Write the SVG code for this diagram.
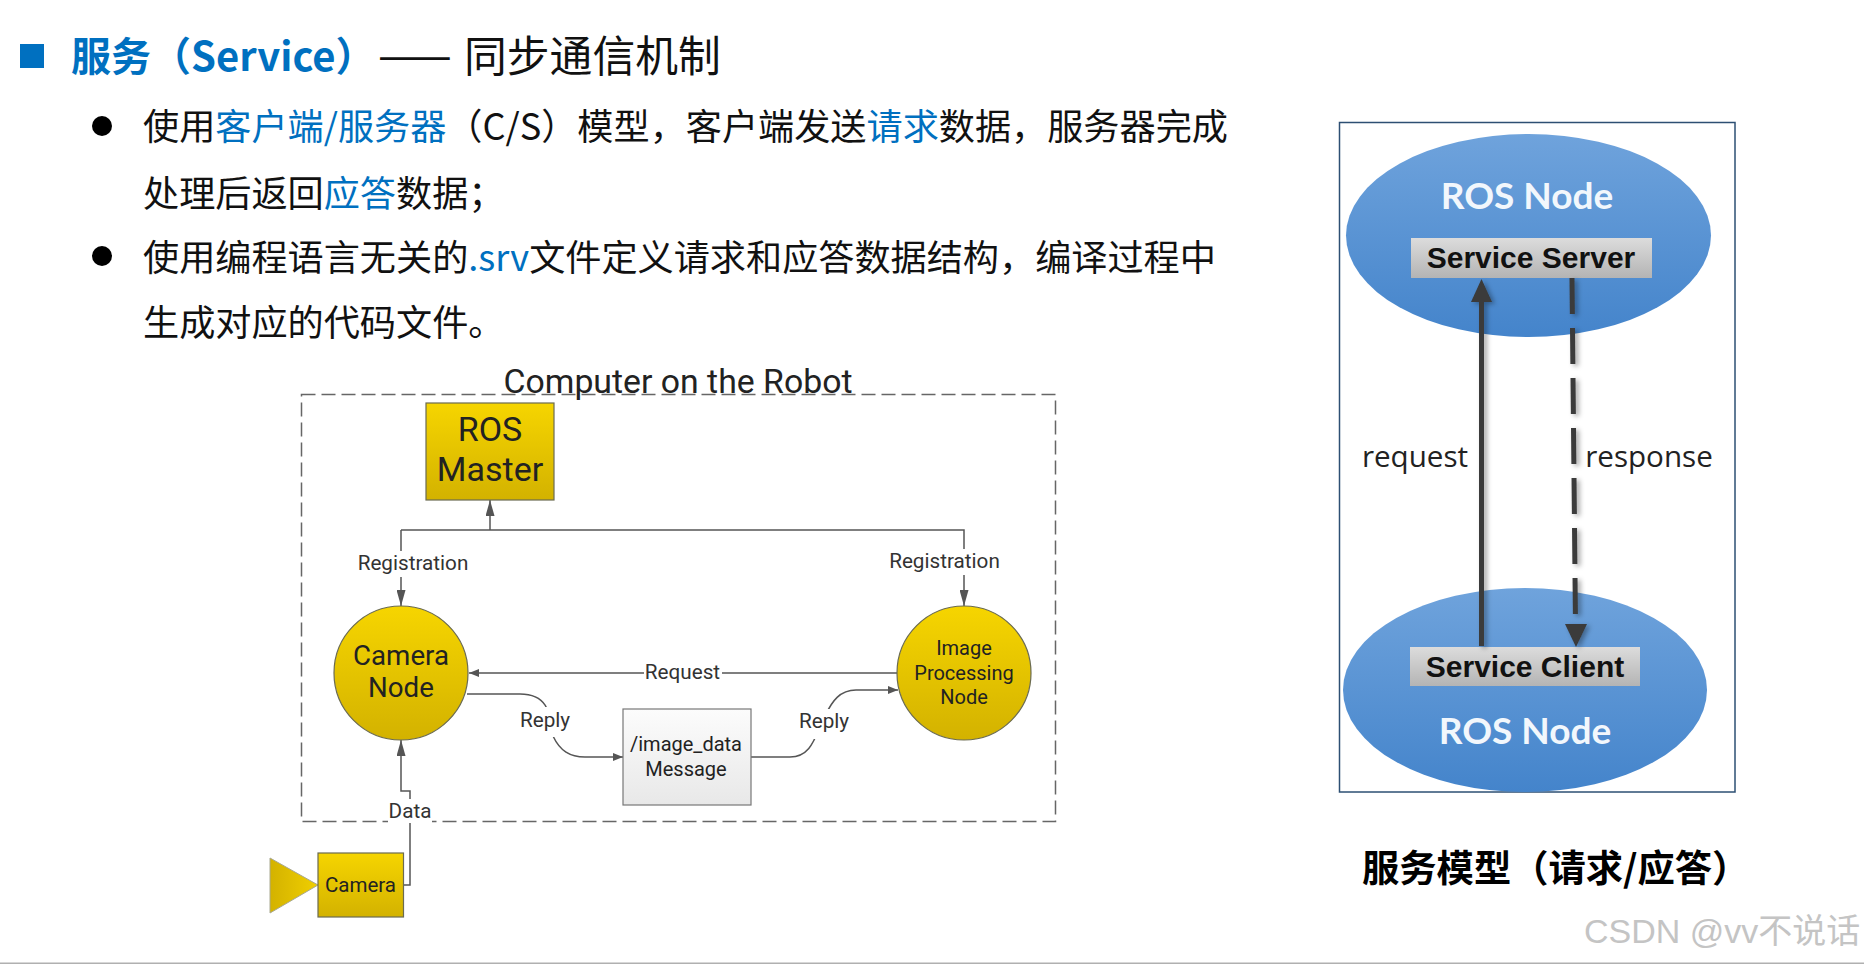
<svg xmlns="http://www.w3.org/2000/svg" width="1864" height="964" viewBox="0 0 1864 964">
<style>
.b{font-family:"Noto Sans CJK SC","Noto Sans",sans-serif;font-size:36.150px;fill:#111}
.h{fill:#0070c0}
.d{font-family:Roboto,"Liberation Sans",sans-serif;fill:#222;text-anchor:middle}
.l{font-size:20.700px;fill:#333}
.c{fill:none;stroke:#555;stroke-width:1.5}
.r{font-family:"Liberation Sans",Arial,sans-serif;font-weight:700;font-size:30px;fill:#111;text-anchor:middle}
.n{font-family:Lato,"Open Sans",sans-serif;font-weight:700;font-size:37px;fill:#f2f7fc;text-anchor:middle}
.q{font-family:"Open Sans","Noto Sans",sans-serif;font-size:29.600px;fill:#222;text-anchor:middle}
.y{stroke:#6b6b50;stroke-width:1.2}
</style>
<defs>
<linearGradient id="gy" x1="0" y1="0" x2="0" y2="1"><stop offset="0" stop-color="#f6d500"/><stop offset="1" stop-color="#d3b200"/></linearGradient>
<linearGradient id="gt" x1="0" y1="0" x2="1" y2="0"><stop offset="0" stop-color="#d3b200"/><stop offset="1" stop-color="#f0cf00"/></linearGradient>
<linearGradient id="gw" x1="0" y1="0" x2="0" y2="1"><stop offset="0" stop-color="#fcfcfc"/><stop offset="1" stop-color="#e8e8e8"/></linearGradient>
<linearGradient id="gb" x1="0" y1="0" x2="0" y2="1"><stop offset="0" stop-color="#6fa3dc"/><stop offset="1" stop-color="#4484cb"/></linearGradient>
<linearGradient id="gg" x1="0" y1="0" x2="0" y2="1"><stop offset="0" stop-color="#dcdcdc"/><stop offset="1" stop-color="#b4b4b4"/></linearGradient>
<filter id="sh" x="-50%" y="-5%" width="250%" height="110%"><feDropShadow dx="3" dy="2" stdDeviation="2.5" flood-color="#000" flood-opacity=".35"/></filter>
<marker id="a" viewBox="0 0 10 8" refX="10" refY="4" markerWidth="10" markerHeight="8" markerUnits="userSpaceOnUse" orient="auto"><path d="M0 0L10 4L0 8z" fill="#555"/></marker>
<marker id="av" viewBox="0 0 16 9" refX="16" refY="4.5" markerWidth="16" markerHeight="9" markerUnits="userSpaceOnUse" orient="auto"><path d="M0 0L16 4.5L0 9z" fill="#555"/></marker>
</defs>
<rect width="1864" height="964" fill="#fff"/>
<g id="slide-text">
<rect x="20" y="44" width="24" height="24" fill="#0070c0"/>
<text class="b" x="71" y="71" style="font-size:40px" font-weight="700"><tspan class="h">服务（Service）</tspan></text>
<text class="b" x="378" y="71" style="font-size:44px;letter-spacing:4px">——</text>
<text class="b" x="464" y="72" style="font-size:42.800px">同步通信机制</text>
<ellipse cx="102" cy="126" rx="10" ry="10" fill="#000"/>
<text class="b" x="143" y="140">使用<tspan class="h">客户端/服务器</tspan>（C/S）模型，客户端发送<tspan class="h">请求</tspan>数据，服务器完成</text>
<text class="b" x="143" y="207">处理后返回<tspan class="h">应答</tspan>数据；</text>
<ellipse cx="102" cy="256" rx="10" ry="10" fill="#000"/>
<text class="b" x="143" y="271">使用编程语言无关的<tspan class="h">.srv</tspan>文件定义请求和应答数据结构，编译过程中</text>
<text class="b" x="143" y="336">生成对应的代码文件。</text>
</g>
<g id="left-diagram" transform="translate(0,1)">
<g id="robot-frame">
<rect x="301.500" y="393.500" width="754" height="427" fill="none" stroke="#666" stroke-width="1.500" stroke-dasharray="14 6"/>
<text class="d" x="678" y="392" font-size="33.800">Computer on the Robot</text>
</g>
<g id="connectors">
<path class="c" d="M490 529V499" marker-end="url(#av)"/>
<path class="c" d="M401 529H964V605" marker-end="url(#av)"/>
<path class="c" d="M401 529V605" marker-end="url(#av)"/>
<path class="c" d="M897 672H469" marker-end="url(#a)"/>
<path class="c" d="M467 693H520C555 693 549 725 553 735C560 750 570 756 585 756H623" marker-end="url(#a)"/>
<path class="c" d="M751 756H790C812 756 815 735 825 715C832 700 840 689 856 689H898" marker-end="url(#a)"/>
<path class="c" d="M403 884H410V790H401V739" marker-end="url(#av)"/>
<g fill="#fff">
<rect x="355" y="550" width="116" height="26"/>
<rect x="887" y="548" width="116" height="26"/>
<rect x="644" y="660" width="78" height="24"/>
<rect x="518" y="706" width="54" height="30"/>
<rect x="798" y="708" width="54" height="30"/>
<rect x="388" y="798" width="44" height="24"/>
</g>
<g class="d">
<text class="l" x="413" y="569">Registration</text>
<text class="l" x="944.500" y="567">Registration</text>
<text class="l" x="682.500" y="678">Request</text>
<text class="l" x="545" y="726">Reply</text>
<text class="l" x="824" y="727">Reply</text>
<text class="l" x="410" y="817">Data</text>
</g>
</g>
<g id="ros-master"><rect class="y" x="426" y="402" width="128" height="97" fill="url(#gy)"/><text class="d" x="490" y="440" font-size="34">ROS</text><text class="d" x="490" y="480" font-size="34">Master</text></g>
<g id="camera-node"><ellipse class="y" cx="401" cy="672" rx="67" ry="67" fill="url(#gy)"/><text class="d" x="401" y="664" font-size="27.700">Camera</text><text class="d" x="401" y="696" font-size="27.700">Node</text></g>
<g id="image-processing-node"><ellipse class="y" cx="964" cy="672" rx="67" ry="67" fill="url(#gy)"/><text class="d" x="964" y="654" font-size="20">Image</text><text class="d" x="964" y="679" font-size="20">Processing</text><text class="d" x="964" y="703" font-size="20">Node</text></g>
<g id="image-data-message"><rect x="623" y="708" width="128" height="96" fill="url(#gw)" stroke="#777" stroke-width="1.200"/><text class="d" x="686" y="750" font-size="20">/image_data</text><text class="d" x="686" y="775" font-size="20">Message</text></g>
<g id="camera"><polygon points="270,857 318,884 270,912" fill="url(#gt)" stroke="#a8a890" stroke-width="1"/><rect class="y" x="318" y="852" width="85.500" height="64" fill="url(#gy)"/><text class="d" x="360.500" y="891" font-size="20.500">Camera</text></g>
</g>
<g id="service-model">
<rect x="1339.500" y="122.500" width="395.500" height="669.500" fill="#fff" stroke="#2d4f73" stroke-width="1.500"/>
<g id="ros-node-top"><ellipse cx="1528.500" cy="235.500" rx="182.500" ry="101.500" fill="url(#gb)"/><text class="n" x="1527" y="209">ROS Node</text></g>
<g id="service-server"><rect x="1411" y="238" width="241" height="40" fill="url(#gg)"/><text class="r" x="1531" y="268">Service Server</text></g>
<g id="ros-node-bottom"><ellipse cx="1525" cy="690" rx="182" ry="102" fill="url(#gb)"/><text class="n" x="1525" y="744">ROS Node</text></g>
<g id="service-client"><rect x="1410" y="647" width="230" height="39" fill="url(#gg)"/><text class="r" x="1525" y="677">Service Client</text></g>
<g id="service-connectors">
<g filter="url(#sh)"><path d="M1481.500 646V300" stroke="#3a3a3a" stroke-width="5" fill="none"/><path d="M1481.500 279L1492 302H1471z" fill="#3a3a3a"/></g>
<g filter="url(#sh)"><path d="M1572 278L1575.500 624" stroke="#3a3a3a" stroke-width="5" fill="none" stroke-dasharray="36 14"/><path d="M1576 647L1565 624H1587z" fill="#3a3a3a"/></g>
</g>
<text class="q" x="1415" y="467">request</text>
<text class="q" x="1649" y="467">response</text>
</g>
<text id="caption" x="1362" y="882" font-family="'Noto Sans CJK SC',sans-serif" font-weight="700" font-size="37.300" fill="#000">服务模型（请求/应答）</text>
<text id="watermark" x="1584" y="943" font-family="'Liberation Sans','Noto Sans CJK SC',sans-serif" font-size="34" fill="#c4c4c4">CSDN @vv不说话</text>
<rect id="bottom-edge" x="0" y="962.500" width="1864" height="1.500" fill="#b0b0b0"/>
</svg>
